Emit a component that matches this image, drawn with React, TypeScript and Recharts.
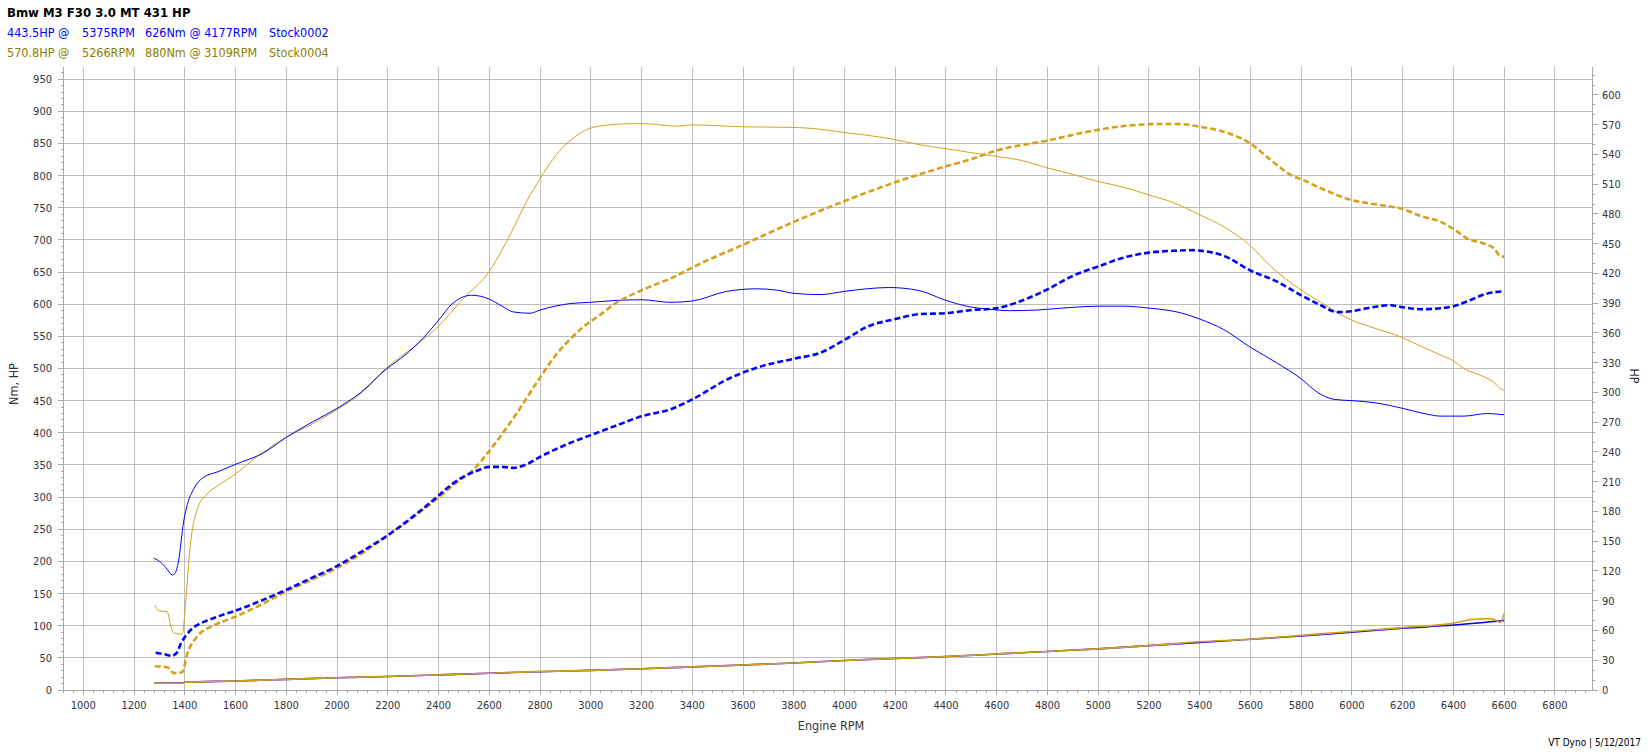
import React from 'react';
import { LineChart, Line, XAxis, YAxis, CartesianGrid } from 'recharts';

// ---------- data (RPM, value) ----------
const blueTorqueNm: [number, number][] = [
  [1278, 205], [1304, 199], [1330, 188], [1350, 179], [1362, 182], [1375, 200], [1396, 263], [1415, 295],
  [1429, 308], [1450, 322], [1475, 331], [1527, 339], [1600, 351], [1711, 369], [1800, 393], [1908, 418],
  [2000, 438], [2091, 462], [2200, 501], [2249, 515], [2341, 548], [2400, 575], [2452, 600], [2531, 614],
  [2600, 608], [2650, 597], [2695, 588], [2761, 586], [2800, 591], [2918, 601], [3000, 603], [3104, 606],
  [3200, 607], [3313, 603], [3400, 605], [3536, 620], [3654, 624], [3733, 622], [3800, 617], [3904, 615],
  [4000, 620], [4087, 624], [4177, 626], [4230, 625], [4297, 621], [4400, 606], [4481, 597], [4573, 592],
  [4650, 590], [4759, 591], [4890, 595], [5000, 597], [5100, 597], [5200, 594], [5310, 588], [5400, 577],
  [5493, 561], [5600, 533], [5703, 509], [5800, 484], [5864, 463], [5930, 452], [6000, 450], [6087, 447],
  [6200, 438], [6296, 429], [6349, 426], [6441, 426], [6533, 430], [6600, 428],
];

const goldTorqueNm: [number, number][] = [
  [1282, 132], [1298, 123], [1330, 122], [1345, 100], [1355, 89], [1383, 87], [1392, 90], [1403, 135],
  [1422, 226], [1449, 281], [1488, 305], [1527, 317], [1600, 336], [1685, 363], [1800, 393], [1908, 415],
  [2000, 436], [2091, 460], [2200, 503], [2301, 533], [2400, 566], [2498, 609], [2600, 651], [2650, 684],
  [2700, 722], [2750, 762], [2800, 795], [2850, 825], [2900, 848], [2950, 864], [3000, 874], [3050, 878],
  [3109, 880], [3200, 881], [3340, 877], [3400, 879], [3600, 876], [3800, 875], [3930, 871], [4000, 867],
  [4087, 863], [4200, 856], [4310, 847], [4400, 842], [4496, 836], [4600, 830], [4693, 824], [4800, 812],
  [4890, 803], [5000, 791], [5100, 782], [5200, 770], [5296, 758], [5400, 739], [5493, 721], [5600, 691],
  [5677, 660], [5800, 622], [5877, 603], [6000, 575], [6087, 563], [6200, 548], [6270, 535], [6349, 521],
  [6400, 512], [6441, 500], [6509, 489], [6561, 478], [6587, 468], [6600, 466],
];

const bluePowerHp: [number, number][] = [
  [1285, 37.5], [1320, 36], [1350, 34.5], [1370, 38], [1383, 46], [1405, 55], [1429, 62], [1460, 67],
  [1488, 70], [1540, 75], [1600, 80], [1700, 90], [1800, 101], [1900, 113], [2000, 125], [2100, 140],
  [2200, 156], [2300, 175], [2400, 196], [2450, 207], [2498, 215], [2551, 221], [2600, 225], [2650, 225],
  [2695, 224], [2750, 228], [2800, 235], [2918, 249], [3000, 257], [3104, 267], [3200, 276], [3313, 283],
  [3400, 293], [3536, 313], [3654, 325], [3800, 334], [3904, 340], [4000, 353], [4087, 366], [4200, 374],
  [4297, 379], [4400, 380], [4496, 383], [4600, 385], [4693, 392], [4800, 404], [4903, 418], [5000, 427],
  [5100, 436], [5200, 441], [5310, 443], [5375, 443.5], [5400, 443], [5493, 438], [5600, 423], [5703, 412],
  [5800, 398], [5877, 388], [5943, 381], [6000, 382], [6060, 385], [6152, 388], [6200, 386], [6270, 384],
  [6350, 385], [6400, 387], [6456, 392], [6522, 399], [6600, 402],
];

const goldPowerHp: [number, number][] = [
  [1282, 24], [1330, 23], [1357, 17], [1390, 18], [1409, 36], [1449, 54], [1514, 65], [1600, 74],
  [1700, 86], [1800, 99.5], [1900, 111], [2000, 123], [2100, 138], [2200, 156], [2300, 174], [2400, 194],
  [2470, 209], [2537, 222], [2600, 241], [2695, 274], [2800, 315], [2860, 337], [2920, 354], [2970, 366],
  [3030, 377], [3104, 391], [3200, 403], [3340, 418], [3400, 426], [3600, 449], [3800, 472], [4000, 493],
  [4200, 512], [4400, 528], [4496, 535], [4600, 544], [4800, 554], [5000, 565], [5113, 569], [5266, 570.8],
  [5336, 570.5], [5400, 568], [5493, 563], [5600, 551], [5677, 535], [5769, 518], [5800, 515], [5877, 506],
  [6000, 494], [6060, 491], [6139, 488], [6200, 485], [6270, 478], [6350, 472], [6400, 465], [6456, 455],
  [6509, 451], [6561, 445], [6587, 437], [6600, 437],
];

const blueBase: [number, number][] = [
  [1280, 11], [1390, 11], [1400, 12], [1600, 14], [1800, 16.5], [2000, 19], [2200, 21], [2400, 23.5],
  [2600, 26], [2800, 28.5], [3000, 30.5], [3200, 33], [3400, 36], [3600, 39], [3800, 42], [4000, 46],
  [4200, 49], [4400, 52], [4600, 56], [4800, 60], [5000, 64], [5200, 69], [5400, 74], [5600, 79],
  [5800, 84], [6000, 90], [6200, 96], [6400, 101], [6600, 108],
];

const goldBase: [number, number][] = [
  [1280, 10.5], [1390, 10.5], [1400, 12], [1600, 14], [1800, 16.5], [2000, 19], [2200, 21], [2400, 23.5],
  [2600, 26], [2800, 29], [3000, 30.5], [3200, 33], [3400, 36], [3600, 39], [3800, 42], [4000, 46],
  [4200, 49], [4400, 52], [4600, 56], [4800, 60], [5000, 64], [5200, 69], [5400, 75], [5600, 79],
  [5800, 85], [6000, 91], [6200, 97], [6400, 104], [6480, 110], [6540, 111], [6570, 108], [6585, 105],
  [6600, 119],
];

// ---------- axis tick labels ----------
const rpmMajor = [1000, 1200, 1400, 1600, 1800, 2000, 2200, 2400, 2600, 2800, 3000, 3200, 3400, 3600, 3800,
  4000, 4200, 4400, 4600, 4800, 5000, 5200, 5400, 5600, 5800, 6000, 6200, 6400, 6600, 6800];
const nmMajor = [0, 50, 100, 150, 200, 250, 300, 350, 400, 450, 500, 550, 600, 650, 700, 750, 800, 850, 900, 950];
const hpMajor = [0, 30, 60, 90, 120, 150, 180, 210, 240, 270, 300, 330, 360, 390, 420, 450, 480, 510, 540, 570, 600];

const rpmTicks: number[] = [];
for (let v = 920; v <= 6940; v += 40) rpmTicks.push(v);
const nmTicks: number[] = [];
for (let v = 0; v <= 960; v += 10) nmTicks.push(v);
const hpTicks: number[] = [];
for (let v = 0; v <= 620; v += 10) hpTicks.push(v);

const toRows = (arr: [number, number][]) => arr.map(([rpm, v]) => ({ rpm, v }));

const BLUE = '#0000ff';
const GOLD = '#d6a01a';
const AXIS = '#a6a6a6';
const GRID = '#bdbdbd';
const TXT = '#333340';
const FONT = "'DejaVu Sans Condensed', 'DejaVu Sans', sans-serif";

const LeftTick = (p: any) => {
  const { x, y, payload } = p;
  const v = payload.value;
  const major = nmMajor.includes(v);
  return (
    <g>
      <line x1={x - (major ? 5 : 2)} x2={x} y1={y} y2={y} stroke={AXIS} shapeRendering="crispEdges" />
      {major && (
        <text x={x - 11} y={y} dy="0.36em" textAnchor="end" fontSize={11} fontFamily={FONT} fill={TXT}>
          {v}
        </text>
      )}
    </g>
  );
};

const RightTick = (p: any) => {
  const { x, y, payload } = p;
  const v = payload.value;
  const major = hpMajor.includes(v);
  return (
    <g>
      <line x1={x} x2={x + (major ? 6 : 3)} y1={y} y2={y} stroke={AXIS} shapeRendering="crispEdges" />
      {major && (
        <text x={x + 10} y={y} dy="0.36em" textAnchor="start" fontSize={11} fontFamily={FONT} fill={TXT}>
          {v}
        </text>
      )}
    </g>
  );
};

const BottomTick = (p: any) => {
  const { x, y, payload } = p;
  const v = payload.value;
  const major = rpmMajor.includes(v);
  return (
    <g>
      <line x1={x} x2={x} y1={y} y2={y + (major ? 5 : 3)} stroke={AXIS} shapeRendering="crispEdges" />
      {major && (
        <text x={x} y={y + 15} dy="0.36em" textAnchor="middle" fontSize={11} fontFamily={FONT} fill={TXT}>
          {v}
        </text>
      )}
    </g>
  );
};

export default function App() {
  const W = 1648;
  const H = 754;
  return (
    <div style={{ position: 'absolute', left: 0, top: 0, width: W, height: H, background: '#fff', overflow: 'hidden' }}>
      <LineChart width={W} height={H} margin={{ top: 67, right: 6, bottom: 34, left: 8 }}>
        <CartesianGrid
          xAxisId="x"
          yAxisId="left"
          stroke={GRID}
          horizontalValues={nmMajor}
          verticalValues={rpmMajor}
          shapeRendering="crispEdges"
        />
        <XAxis
          xAxisId="x"
          type="number"
          dataKey="rpm"
          domain={[920, 6946]}
          allowDataOverflow
          ticks={rpmTicks}
          interval={0}
          height={30}
          tickSize={0}
          tickMargin={0}
          tickLine={false}
          axisLine={{ stroke: AXIS, shapeRendering: 'crispEdges' }}
          tick={<BottomTick />}
        />
        <YAxis
          yAxisId="left"
          orientation="left"
          type="number"
          domain={[0, 969]}
          allowDataOverflow
          ticks={nmTicks}
          interval={0}
          width={55}
          tickSize={0}
          tickMargin={0}
          tickLine={false}
          axisLine={{ stroke: AXIS, shapeRendering: 'crispEdges' }}
          tick={<LeftTick />}
        />
        <YAxis
          yAxisId="right"
          orientation="right"
          type="number"
          domain={[0, 628.2]}
          allowDataOverflow
          ticks={hpTicks}
          interval={0}
          width={50}
          tickSize={0}
          tickMargin={0}
          tickLine={false}
          axisLine={{ stroke: AXIS, shapeRendering: 'crispEdges' }}
          tick={<RightTick />}
        />
        <Line data={toRows(blueBase)} dataKey="v" xAxisId="x" yAxisId="left" type="monotone" stroke={BLUE}
          strokeWidth={1.6} dot={false} isAnimationActive={false} />
        <Line data={toRows(goldBase)} dataKey="v" xAxisId="x" yAxisId="left" type="monotone" stroke={GOLD}
          strokeWidth={1.6} dot={false} isAnimationActive={false} />
        <Line data={toRows(goldTorqueNm)} dataKey="v" xAxisId="x" yAxisId="left" type="monotone" stroke={GOLD}
          strokeWidth={1} dot={false} isAnimationActive={false} />
        <Line data={toRows(blueTorqueNm)} dataKey="v" xAxisId="x" yAxisId="left" type="monotone" stroke={BLUE}
          strokeWidth={1} dot={false} isAnimationActive={false} />
        <Line data={toRows(goldPowerHp)} dataKey="v" xAxisId="x" yAxisId="right" type="monotone" stroke={GOLD}
          strokeWidth={2.6} strokeDasharray="6 3" dot={false} isAnimationActive={false} />
        <Line data={toRows(bluePowerHp)} dataKey="v" xAxisId="x" yAxisId="right" type="monotone" stroke={BLUE}
          strokeWidth={2.6} strokeDasharray="6 3" dot={false} isAnimationActive={false} />
      </LineChart>
      <svg width={W} height={H} style={{ position: 'absolute', left: 0, top: 0, pointerEvents: 'none' }}>
        <text x={7} y={12.6} dy="0.36em" fontSize={13} fontWeight="bold" fontFamily={FONT} fill="#000">
          Bmw M3 F30 3.0 MT 431 HP
        </text>
        <g fontSize={12.5} fontFamily={FONT} fill={BLUE}>
          <text x={7} y={32.6} dy="0.36em">443.5HP @</text>
          <text x={82} y={32.6} dy="0.36em">5375RPM</text>
          <text x={145} y={32.6} dy="0.36em">626Nm @ 4177RPM</text>
          <text x={269} y={32.6} dy="0.36em">Stock0002</text>
        </g>
        <g fontSize={12.5} fontFamily={FONT} fill="#8a7e00">
          <text x={7} y={52.5} dy="0.36em">570.8HP @</text>
          <text x={82} y={52.5} dy="0.36em">5266RPM</text>
          <text x={145} y={52.5} dy="0.36em">880Nm @ 3109RPM</text>
          <text x={269} y={52.5} dy="0.36em">Stock0004</text>
        </g>
        <text x={831} y={725} dy="0.36em" textAnchor="middle" fontSize={12.5} fontFamily={FONT} fill={TXT}>
          Engine RPM
        </text>
        <text transform="translate(13,384) rotate(-90)" dy="0.36em" textAnchor="middle" fontSize={12.5}
          fontFamily={FONT} fill={TXT}>
          Nm, HP
        </text>
        <text transform="translate(1634,376) rotate(90)" dy="0.36em" textAnchor="middle" fontSize={12.5}
          fontFamily={FONT} fill={TXT}>
          HP
        </text>
        <text x={1641} y={742} dy="0.36em" textAnchor="end" fontSize={10} fontFamily={FONT} fill="#000">
          VT Dyno | 5/12/2017
        </text>
      </svg>
    </div>
  );
}
